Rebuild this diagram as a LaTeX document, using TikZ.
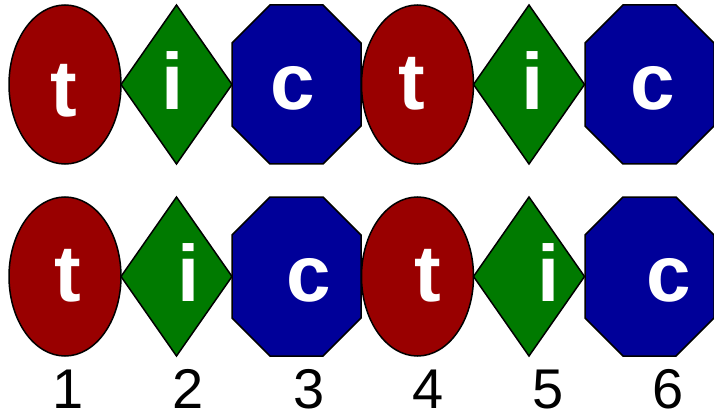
\documentclass[tikz,border=0pt]{standalone}
\usepackage{fontspec}
\setmainfont{Liberation Sans}
\usetikzlibrary{shapes.geometric}
\definecolor{tred}{RGB}{153,0,0}
\definecolor{tgreen}{RGB}{0,122,0}
\definecolor{tblue}{RGB}{0,0,153}
\tikzset{
  shp/.style={draw=black, line width=1.5pt, inner sep=0pt, outer sep=0pt},
  ell/.style={shp, ellipse, fill=tred, minimum width=112pt, minimum height=159pt},
  dia/.style={shp, diamond, fill=tgreen, minimum width=111pt, minimum height=159pt},
  oct/.style={draw=black, line width=1.5pt, fill=tblue, line join=miter},
  letter/.style={text=white, font=\fontsize{80pt}{80pt}\selectfont\bfseries, anchor=base, inner sep=0pt},
  num/.style={text=black, font=\fontsize{56pt}{56pt}\selectfont, anchor=base, inner sep=0pt}
}
\newcommand{\octagonat}[3]{%
  \begin{scope}[shift={(#1,#2)}]
    \draw[oct] (-26.5,-79.5) -- (26.5,-79.5) -- (64.5,-41.5) -- (64.5,41.5)
      -- (26.5,79.5) -- (-26.5,79.5) -- (-64.5,41.5) -- (-64.5,-41.5) -- cycle;
    \coordinate (#3) at (0,0);
  \end{scope}}
\begin{document}
\begin{tikzpicture}[x=1pt,y=-1pt]
\useasboundingbox (0,0) rectangle (714,414);
% row 1
\node[ell] (e1) at (65,84.5) {};
\node[dia] (d2) at (176.5,84.5) {};
\octagonat{296.5}{84.5}{o3}
\node[ell] (e4) at (417.5,84.5) {};
\node[dia] (d5) at (529,84.5) {};
\octagonat{649.5}{84.5}{o6}
\node[letter] (l1) at (64,117) {t};
\node[letter] (l2) at (173,109.5) {i};
\node[letter] (l3) at (293,109.5) {c};
\node[letter] (l4) at (412,109.5) {t};
\node[letter] (l5) at (533,109.5) {i};
\node[letter] (l6) at (653,109.5) {c};
% row 2
\node[ell] (f1) at (65,276.5) {};
\node[dia] (g2) at (176.5,276.5) {};
\octagonat{296.5}{276.5}{p3}
\node[ell] (f4) at (417.5,276.5) {};
\node[dia] (g5) at (529,276.5) {};
\octagonat{649.5}{276.5}{p6}
\node[letter] (m1) at (68,301.5) {t};
\node[letter] (m2) at (189,301.5) {i};
\node[letter] (m3) at (309,301.5) {c};
\node[letter] (m4) at (428,301.5) {t};
\node[letter] (m5) at (549,301.5) {i};
\node[letter] (m6) at (669,301.5) {c};
% numbers
\node[num] (n1) at (68,408) {1};
\node[num] (n2) at (188,408) {2};
\node[num] (n3) at (309,408) {3};
\node[num] (n4) at (428,408) {4};
\node[num] (n5) at (548,408) {5};
\node[num] (n6) at (668,408) {6};
\end{tikzpicture}
\end{document}
